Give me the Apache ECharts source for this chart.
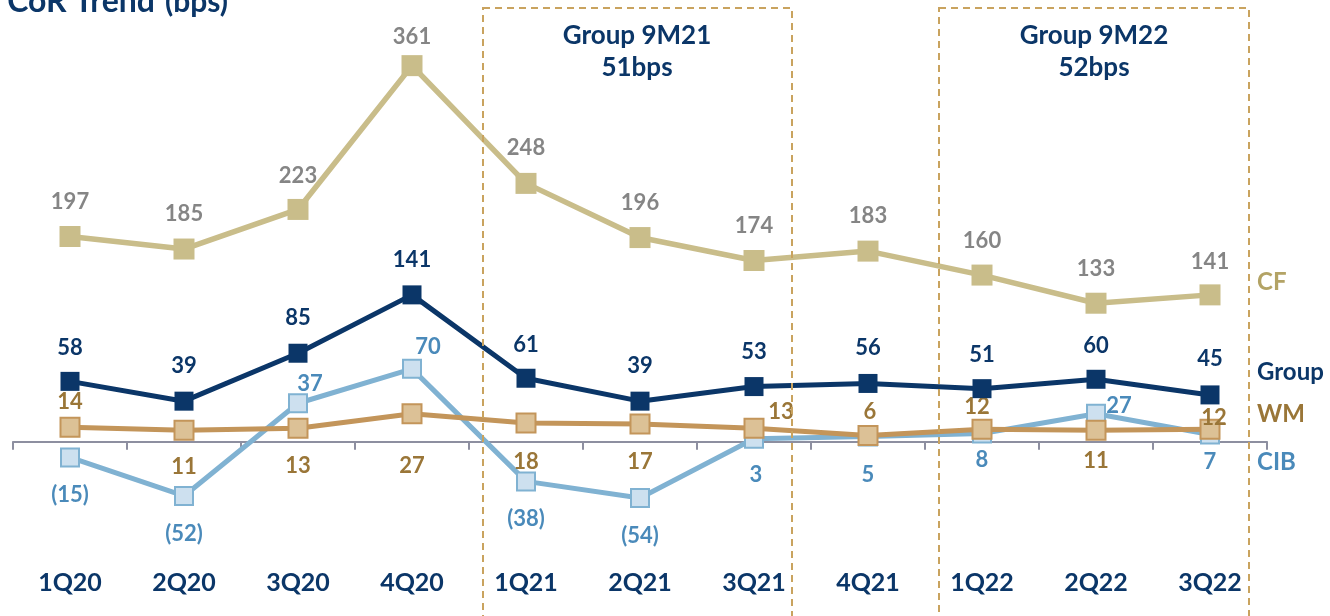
<!DOCTYPE html>
<html>
<head>
<meta charset="utf-8">
<script src="https://cdn.jsdelivr.net/npm/echarts@6/dist/echarts.min.js"></script>
<style>html,body{margin:0;padding:0;background:#fff;}#c{width:1330px;height:616px;}</style>
</head>
<body>
<div id="c"></div>
<script>
// ---- data ----
const categories = ['1Q20','2Q20','3Q20','4Q20','1Q21','2Q21','3Q21','4Q21','1Q22','2Q22','3Q22'];
const cfValues    = [197,185,223,361,248,196,174,183,160,133,141];
const groupValues = [58,39,85,141,61,39,53,56,51,60,45];
const wmValues    = [14,11,13,27,18,17,13,6,12,11,12];
const cibValues   = [-15,-52,37,70,-38,-54,3,5,8,27,7];
const seriesNames = ['CF','Group','WM','CIB'];
const boxTexts = ['Group 9M21\n51bps','Group 9M22\n52bps'];
const titleMain = 'CoR Trend';
const titleUnit = '(bps)';

// ---- label placement (styling) ----
const cfLabelOffsets    = [[0,-35],[0,-35],[0,-34],[0,-29],[0,-35],[0,-35],[0,-35],[0,-35],[0,-34],[0,-34],[0,-33]];
const groupLabelOffsets = [[0,-33],[0,-35],[0,-35],[0,-35],[0,-33],[0,-35],[0,-35],[0,-36],[0,-34],[0,-33],[0,-36]];
const wmLabelOffsets    = [[0,-25],[0,37],[0,38],[0,52],[0,39],[0,38],[27,-16],[2,-24],[-5,-22],[0,31],[4,-11]];
const cibLabelOffsets   = [[0,37],[0,38],[12,-19],[16,-22],[0,38],[0,38],[2,36],[0,38],[0,26],[23,-8],[0,27]];

const NAVY = '#0b3668';
const FONT = 'Lato';
const fmt = p => p.value < 0 ? '(' + (-p.value) + ')' : String(p.value);

function makeData(vals, offs) {
  return vals.map((v, i) => ({ value: v, label: { offset: offs[i] } }));
}

function lineSeries(name, vals, offs, cfg) {
  return {
    name: name,
    type: 'line',
    data: makeData(vals, offs),
    symbol: 'rect',
    symbolSize: cfg.symbolSize,
    lineStyle: { color: cfg.line, width: cfg.lineWidth },
    itemStyle: { color: cfg.fill, borderColor: cfg.border, borderWidth: cfg.borderWidth },
    label: {
      show: true, position: 'inside', formatter: fmt,
      fontFamily: FONT, fontWeight: 'bold', fontSize: 22, color: cfg.labelColor
    },
    endLabel: {
      show: true, formatter: name, distance: 47, offset: cfg.endOffset,
      fontFamily: FONT, fontWeight: 'bold', fontSize: 24, color: cfg.endColor, align: 'left'
    },
    emphasis: { disabled: true },
    animation: false,
    z: cfg.z
  };
}

const chart = echarts.init(document.getElementById('c'), null, { renderer: 'canvas' });
chart.setOption({
  animation: false,
  grid: { left: 13, right: 63, top: 25, bottom: 70, containLabel: false, outerBoundsMode: 'none' },
  xAxis: {
    type: 'category',
    data: categories,
    boundaryGap: true,
    axisLine: { onZero: true, lineStyle: { color: '#8d8fa0', width: 2 } },
    axisTick: { show: true, length: 8, lineStyle: { color: '#8d8fa0', width: 2 } },
    axisLabel: { margin: 24, fontFamily: FONT, fontWeight: 'bold', fontSize: 25, color: NAVY }
  },
  yAxis: {
    type: 'value', min: -100, max: 400,
    axisLine: { show: false }, axisTick: { show: false },
    axisLabel: { show: false }, splitLine: { show: false }
  },
  series: [
    lineSeries(seriesNames[3], cibValues, cibLabelOffsets, {
      symbolSize: 18, line: '#80b2d2', lineWidth: 5, fill: '#cde0ef', border: '#80b2d2', borderWidth: 2,
      labelColor: '#4a8aba', endColor: '#4a8aba', endOffset: [0, 28], z: 2 }),
    lineSeries(seriesNames[2], wmValues, wmLabelOffsets, {
      symbolSize: 19, line: '#c3955a', lineWidth: 5, fill: '#dcc196', border: '#c3955a', borderWidth: 2,
      labelColor: '#9a7638', endColor: '#9a7638', endOffset: [0, -15], z: 3 }),
    lineSeries(seriesNames[1], groupValues, groupLabelOffsets, {
      symbolSize: 19, line: NAVY, lineWidth: 5, fill: NAVY, border: NAVY, borderWidth: 0,
      labelColor: NAVY, endColor: NAVY, endOffset: [0, -23], z: 4 }),
    lineSeries(seriesNames[0], cfValues, cfLabelOffsets, {
      symbolSize: 21, line: '#c9bd8a', lineWidth: 5.5, fill: '#c9bd8a', border: '#c9bd8a', borderWidth: 0,
      labelColor: '#858585', endColor: '#b3a365', endOffset: [0, -13], z: 5 })
  ],
  graphic: [
    { type: 'rect', z: 100, silent: true, shape: { x: 483, y: 8, width: 309, height: 640 },
      style: { fill: 'none', stroke: '#c9a35f', lineWidth: 2, lineDash: [7, 5] } },
    { type: 'rect', z: 100, silent: true, shape: { x: 939, y: 8, width: 310, height: 640 },
      style: { fill: 'none', stroke: '#c9a35f', lineWidth: 2, lineDash: [7, 5] } },
    { type: 'text', z: 100, silent: true, x: 637, y: 52,
      style: { text: boxTexts[0], textAlign: 'center', textVerticalAlign: 'middle',
        font: 'bold 26px ' + FONT, lineHeight: 32, fill: NAVY } },
    { type: 'text', z: 100, silent: true, x: 1094, y: 52,
      style: { text: boxTexts[1], textAlign: 'center', textVerticalAlign: 'middle',
        font: 'bold 26px ' + FONT, lineHeight: 32, fill: NAVY } },
    { type: 'text', z: 100, silent: true, x: 155, y: 2,
      style: { text: titleMain, textAlign: 'right', textVerticalAlign: 'middle',
        font: 'bold 32px ' + FONT, fill: NAVY } },
    { type: 'text', z: 100, silent: true, x: 165, y: 2,
      style: { text: titleUnit, textAlign: 'left', textVerticalAlign: 'middle',
        font: 'bold 30px ' + FONT, fill: NAVY } }
  ]
});
</script>
</body>
</html>
